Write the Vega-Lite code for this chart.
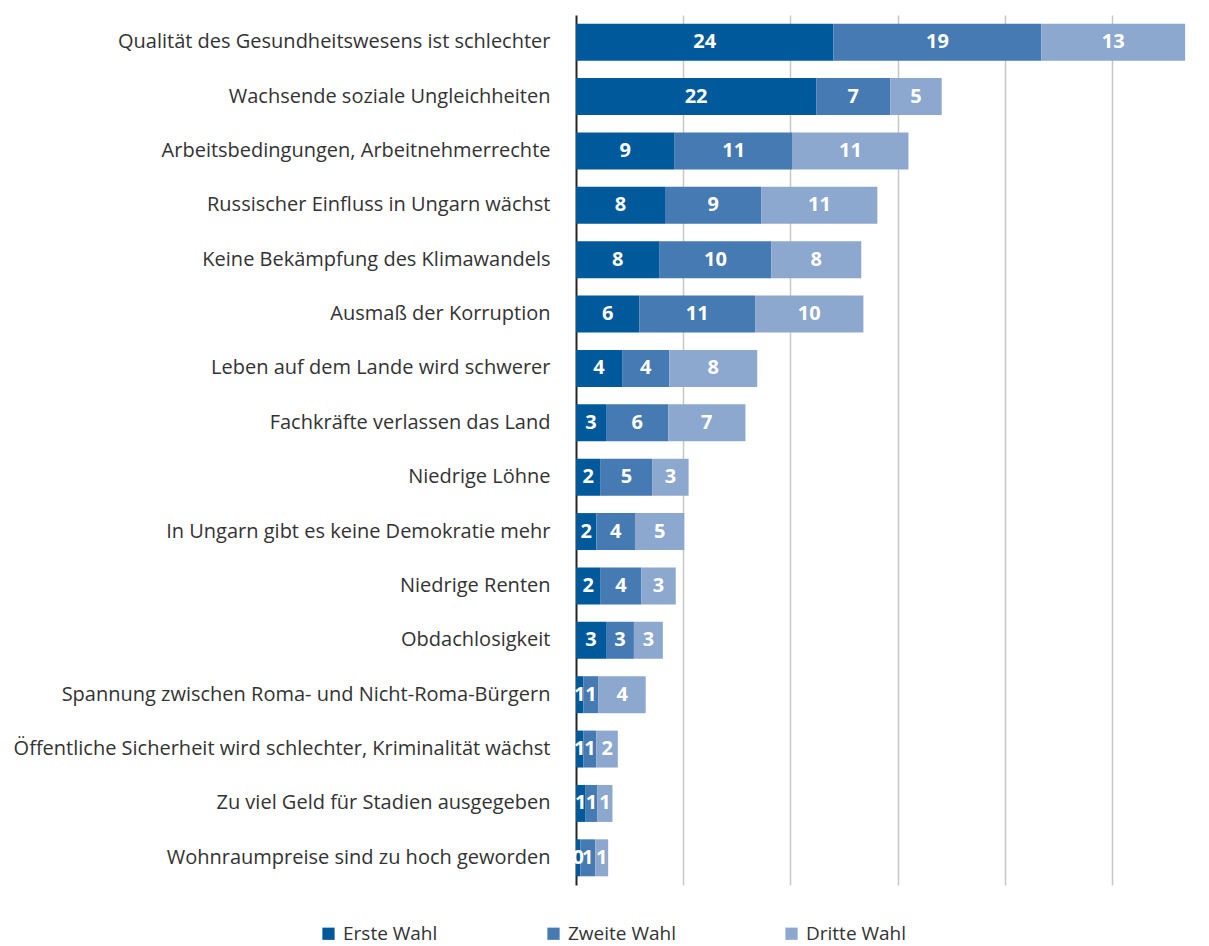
{
  "$schema": "https://vega.github.io/schema/vega-lite/v6.json",
  "width": 622,
  "height": 870,
  "autosize": "none",
  "padding": {"left": 576, "top": 15, "right": 11, "bottom": 61},
  "background": "white",
  "config": {
    "view": {"stroke": null},
    "font": "Open Sans"
  },
  "data": {
    "values": [
      {"thema": "Qualität des Gesundheitswesens ist schlechter", "wahl": "Erste Wahl", "rang": 1, "wert": 24.0},
      {"thema": "Qualität des Gesundheitswesens ist schlechter", "wahl": "Zweite Wahl", "rang": 2, "wert": 19.4},
      {"thema": "Qualität des Gesundheitswesens ist schlechter", "wahl": "Dritte Wahl", "rang": 3, "wert": 13.4},
      {"thema": "Wachsende soziale Ungleichheiten", "wahl": "Erste Wahl", "rang": 1, "wert": 22.4},
      {"thema": "Wachsende soziale Ungleichheiten", "wahl": "Zweite Wahl", "rang": 2, "wert": 6.9},
      {"thema": "Wachsende soziale Ungleichheiten", "wahl": "Dritte Wahl", "rang": 3, "wert": 4.8},
      {"thema": "Arbeitsbedingungen, Arbeitnehmerrechte", "wahl": "Erste Wahl", "rang": 1, "wert": 9.2},
      {"thema": "Arbeitsbedingungen, Arbeitnehmerrechte", "wahl": "Zweite Wahl", "rang": 2, "wert": 11.0},
      {"thema": "Arbeitsbedingungen, Arbeitnehmerrechte", "wahl": "Dritte Wahl", "rang": 3, "wert": 10.8},
      {"thema": "Russischer Einfluss in Ungarn wächst", "wahl": "Erste Wahl", "rang": 1, "wert": 8.3},
      {"thema": "Russischer Einfluss in Ungarn wächst", "wahl": "Zweite Wahl", "rang": 2, "wert": 9.0},
      {"thema": "Russischer Einfluss in Ungarn wächst", "wahl": "Dritte Wahl", "rang": 3, "wert": 10.8},
      {"thema": "Keine Bekämpfung des Klimawandels", "wahl": "Erste Wahl", "rang": 1, "wert": 7.8},
      {"thema": "Keine Bekämpfung des Klimawandels", "wahl": "Zweite Wahl", "rang": 2, "wert": 10.4},
      {"thema": "Keine Bekämpfung des Klimawandels", "wahl": "Dritte Wahl", "rang": 3, "wert": 8.4},
      {"thema": "Ausmaß der Korruption", "wahl": "Erste Wahl", "rang": 1, "wert": 5.9},
      {"thema": "Ausmaß der Korruption", "wahl": "Zweite Wahl", "rang": 2, "wert": 10.8},
      {"thema": "Ausmaß der Korruption", "wahl": "Dritte Wahl", "rang": 3, "wert": 10.1},
      {"thema": "Leben auf dem Lande wird schwerer", "wahl": "Erste Wahl", "rang": 1, "wert": 4.3},
      {"thema": "Leben auf dem Lande wird schwerer", "wahl": "Zweite Wahl", "rang": 2, "wert": 4.4},
      {"thema": "Leben auf dem Lande wird schwerer", "wahl": "Dritte Wahl", "rang": 3, "wert": 8.2},
      {"thema": "Fachkräfte verlassen das Land", "wahl": "Erste Wahl", "rang": 1, "wert": 2.8},
      {"thema": "Fachkräfte verlassen das Land", "wahl": "Zweite Wahl", "rang": 2, "wert": 5.8},
      {"thema": "Fachkräfte verlassen das Land", "wahl": "Dritte Wahl", "rang": 3, "wert": 7.2},
      {"thema": "Niedrige Löhne", "wahl": "Erste Wahl", "rang": 1, "wert": 2.3},
      {"thema": "Niedrige Löhne", "wahl": "Zweite Wahl", "rang": 2, "wert": 4.8},
      {"thema": "Niedrige Löhne", "wahl": "Dritte Wahl", "rang": 3, "wert": 3.4},
      {"thema": "In Ungarn gibt es keine Demokratie mehr", "wahl": "Erste Wahl", "rang": 1, "wert": 1.9},
      {"thema": "In Ungarn gibt es keine Demokratie mehr", "wahl": "Zweite Wahl", "rang": 2, "wert": 3.6},
      {"thema": "In Ungarn gibt es keine Demokratie mehr", "wahl": "Dritte Wahl", "rang": 3, "wert": 4.6},
      {"thema": "Niedrige Renten", "wahl": "Erste Wahl", "rang": 1, "wert": 2.3},
      {"thema": "Niedrige Renten", "wahl": "Zweite Wahl", "rang": 2, "wert": 3.8},
      {"thema": "Niedrige Renten", "wahl": "Dritte Wahl", "rang": 3, "wert": 3.2},
      {"thema": "Obdachlosigkeit", "wahl": "Erste Wahl", "rang": 1, "wert": 2.8},
      {"thema": "Obdachlosigkeit", "wahl": "Zweite Wahl", "rang": 2, "wert": 2.6},
      {"thema": "Obdachlosigkeit", "wahl": "Dritte Wahl", "rang": 3, "wert": 2.7},
      {"thema": "Spannung zwischen Roma- und Nicht-Roma-Bürgern", "wahl": "Erste Wahl", "rang": 1, "wert": 0.7},
      {"thema": "Spannung zwischen Roma- und Nicht-Roma-Bürgern", "wahl": "Zweite Wahl", "rang": 2, "wert": 1.4},
      {"thema": "Spannung zwischen Roma- und Nicht-Roma-Bürgern", "wahl": "Dritte Wahl", "rang": 3, "wert": 4.4},
      {"thema": "Öffentliche Sicherheit wird schlechter, Kriminalität wächst", "wahl": "Erste Wahl", "rang": 1, "wert": 0.7},
      {"thema": "Öffentliche Sicherheit wird schlechter, Kriminalität wächst", "wahl": "Zweite Wahl", "rang": 2, "wert": 1.2},
      {"thema": "Öffentliche Sicherheit wird schlechter, Kriminalität wächst", "wahl": "Dritte Wahl", "rang": 3, "wert": 2.0},
      {"thema": "Zu viel Geld für Stadien ausgegeben", "wahl": "Erste Wahl", "rang": 1, "wert": 0.9},
      {"thema": "Zu viel Geld für Stadien ausgegeben", "wahl": "Zweite Wahl", "rang": 2, "wert": 1.1},
      {"thema": "Zu viel Geld für Stadien ausgegeben", "wahl": "Dritte Wahl", "rang": 3, "wert": 1.4},
      {"thema": "Wohnraumpreise sind zu hoch geworden", "wahl": "Erste Wahl", "rang": 1, "wert": 0.4},
      {"thema": "Wohnraumpreise sind zu hoch geworden", "wahl": "Zweite Wahl", "rang": 2, "wert": 1.4},
      {"thema": "Wohnraumpreise sind zu hoch geworden", "wahl": "Dritte Wahl", "rang": 3, "wert": 1.2}
    ]
  },
  "transform": [
    {"stack": "wert", "groupby": ["thema"], "sort": [{"field": "rang", "order": "ascending"}], "as": ["v0", "v1"]},
    {"calculate": "(datum.v0 + datum.v1) / 2", "as": "mitte"}
  ],
  "encoding": {
    "y": {
      "field": "thema",
      "type": "nominal",
      "sort": null,
      "scale": {"paddingInner": 0.32, "paddingOuter": 0.16},
      "axis": {
        "title": null,
        "ticks": false,
        "domainColor": "#262626",
        "domainWidth": 2,
        "labelFontSize": 20,
        "labelColor": "#333333",
        "labelPadding": 26,
        "labelLimit": 600,
        "labelFont": "Open Sans"
      }
    }
  },
  "layer": [
    {
      "mark": {"type": "bar"},
      "encoding": {
        "x": {
          "field": "v0",
          "type": "quantitative",
          "scale": {"domain": [0, 58], "nice": false},
          "axis": {
            "title": null,
            "values": [10, 20, 30, 40, 50],
            "labels": false,
            "ticks": false,
            "domain": false,
            "grid": true,
            "gridColor": "#c8c8c8",
            "gridWidth": 1.5
          }
        },
        "x2": {"field": "v1"},
        "color": {
          "field": "wahl",
          "type": "nominal",
          "sort": ["Erste Wahl", "Zweite Wahl", "Dritte Wahl"],
          "scale": {
            "domain": ["Erste Wahl", "Zweite Wahl", "Dritte Wahl"],
            "range": ["#00599a", "#457ab2", "#8da8cf"]
          },
          "legend": {
            "title": null,
            "orient": "none",
            "direction": "horizontal",
            "legendX": -257,
            "legendY": 909,
            "columns": 3,
            "gridAlign": "each",
            "columnPadding": 106,
            "symbolType": "square",
            "symbolSize": 150,
            "symbolStrokeWidth": 0,
            "labelFontSize": 19,
            "labelColor": "#333333",
            "labelFont": "Open Sans",
            "labelOffset": 5
          }
        }
      }
    },
    {
      "mark": {"type": "text", "color": "white", "fontWeight": "bold", "fontSize": 20, "font": "Open Sans", "align": "center", "baseline": "middle"},
      "encoding": {
        "x": {"field": "mitte", "type": "quantitative"},
        "text": {"field": "wert", "type": "quantitative", "format": ".0f"}
      }
    }
  ]
}
